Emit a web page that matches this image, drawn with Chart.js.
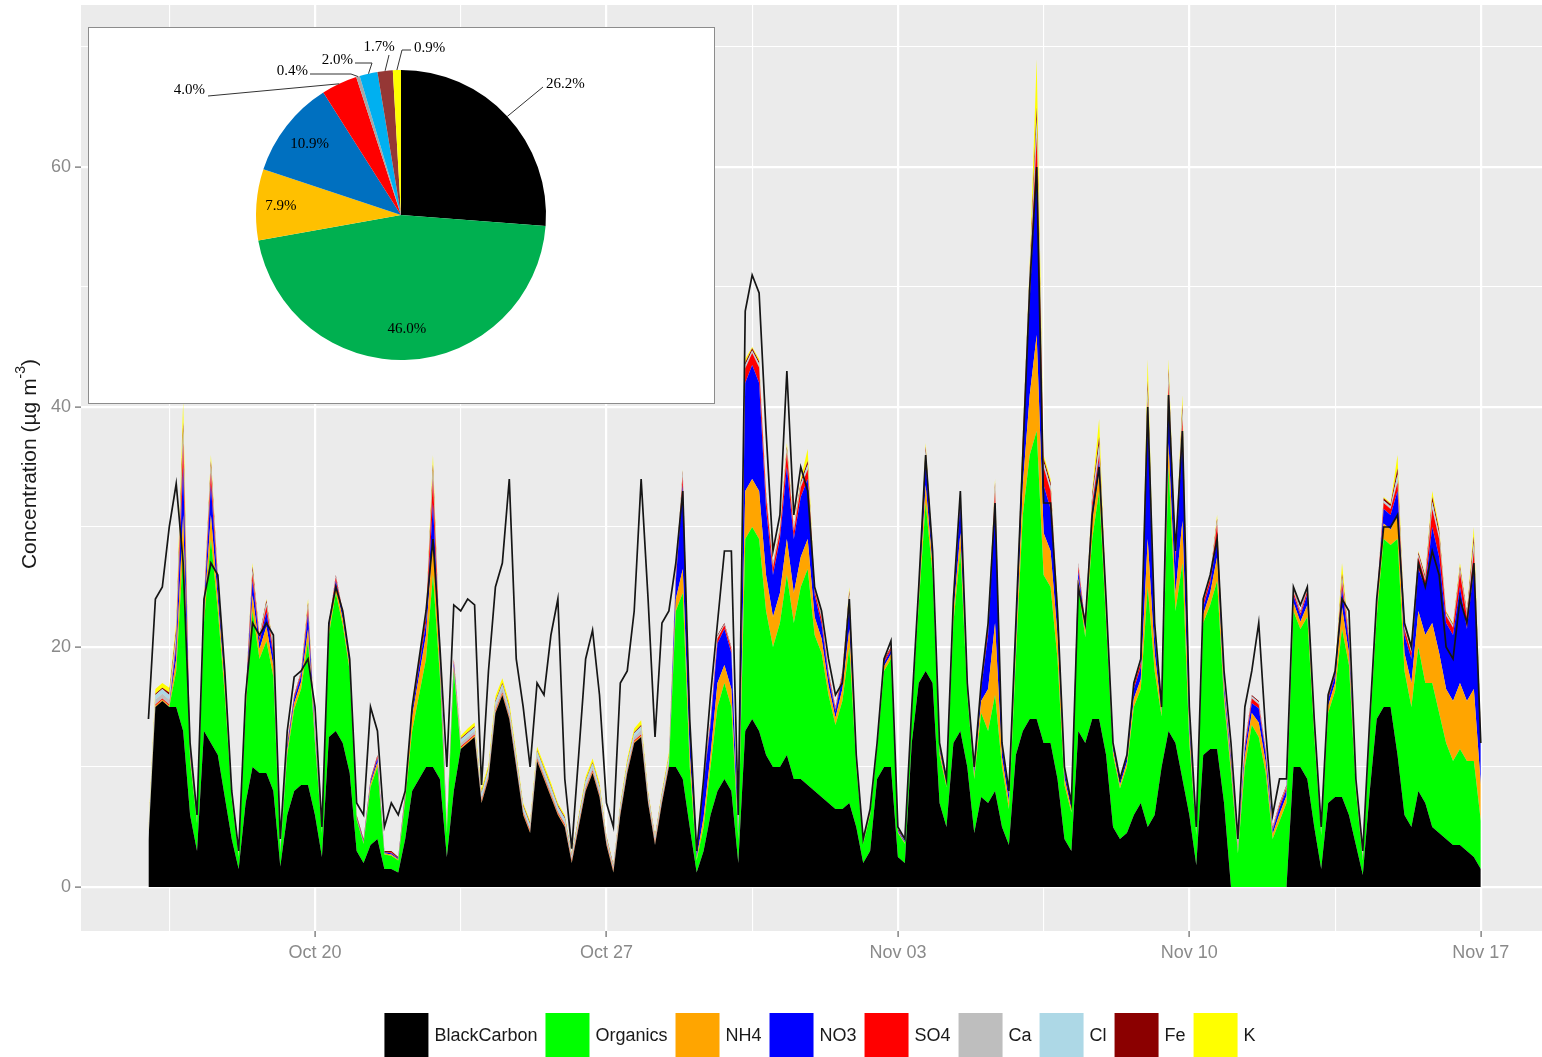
<!DOCTYPE html>
<html>
<head>
<meta charset="utf-8">
<script src="https://cdn.jsdelivr.net/npm/chart.js@4.4.1/dist/chart.umd.min.js"></script>
<style>
html,body{margin:0;padding:0;background:#fff;}
#wrap{position:relative;width:1542px;height:1057px;overflow:hidden;background:#fff;}
#main{position:absolute;left:0;top:0;}
#inset{position:absolute;left:88px;top:27px;width:625px;height:375px;background:#fff;border:1px solid #8c8c8c;}
#pie{position:absolute;left:0;top:0;}
</style>
</head>
<body>
<div id="wrap">
<canvas id="main" width="1542" height="1057"></canvas>
<div id="inset"><canvas id="pie" width="625" height="375"></canvas></div>
</div>
<script>
// ---------------- DATA (4-hourly, starting Oct 16 00:00, ending Nov 17 00:00) ----------------
const startLabel = 'Oct 16';
const stepHours = 4;
const seriesNames = ['BlackCarbon','Organics','NH4','NO3','SO4','Ca','Cl','Fe','K'];

const bc = [
3.9,15,15.5,15,15,13, 6,3,13,12,11,7.5, 4,1.5,7,10,9.5,9.5, 8,1.7,6,8,8.5,8.5,
6,2.5,12.5,13,12,9.5, 3,2,3.5,4,1.5,1.5, 1.2,4,8,9,10,10, 9,2.5,8,11.5,12,12.5,
7,9,14.5,16,14,10, 6,4.5,10.5,9,7.5,6, 5,2,5,8,9.5,7.5, 3.5,1.2,6,9.5,12,12.5,
7,3.5,7,10,10,9, 5,1.2,3,6,8,9, 8,2,13,14,13,11, 10,10,11,9,9,8.5,
8,7.5,7,6.5,6.5,7, 5,2,3,9,10,10, 2.5,2,12,17,18,17, 7,5,12,13,10,4.5,
7.5,7,8,5,3.5,11, 13,14,14,12,12,9, 4,3,13,12,14,14, 11,5,4,4.5,6,7,
5,6,10,13,12,9, 6,1.8,11,11.5,11.5,7, 0,0,0,0,0,0, 0,0,0,10,10,9,
5,1.5,7,7.5,7.5,6, 3.5,1,8,14,15,15, 11,6,5,8,7,5, 4.5,4,3.5,3.5,3,2.5,1.5];

const organics = [
0,0,0,0,3,15, 4.5,2.3,9,17,12,8.5, 3.3,1,7.5,13,9.5,11, 9.5,1.2,5,6.8,8,12,
6,2,8.5,11.5,9.8,8.5, 2.6,1.6,4.8,6,1.2,1.1, 1,3.2,5,7,9,16, 8.5,2,10,0,0,0,
0,0,0,0,0,0, 0,0,0,0,0,0, 0,0,0,0,0,0, 0,0,0,0,0,0,
0,0,0,0,13,15.5, 5,1,2,4,7,8, 7,2,16,16,16,12, 10,12,15,13,16,18,
13,12,9,7,9,13, 5,1.6,3,2.5,8,9, 2,1.6,2.5,6.5,14,9, 4,3.3,10,15,6,4.5,
7,6,8,5,3,8, 18,22,24,14,13,10, 4.5,3.2,12,8.8,15,19, 11,6,4.2,5.5,9,9.5,
20,12,4.2,22,11,18, 6,2.5,11,12,14,8.5, 9.5,2.8,10,13.5,12.5,9.5, 4,5.5,7,13,11.5,13.5,
7.5,2.8,7.5,8.8,14,12.5, 4.5,1.2,5,8.5,14,13.5, 18,12,10,12,10,12, 10,8,7,8,7.5,8,4];

const nh4 = [
0,.1,.1,.1,1,3, .4,.2,.7,2,1,.8, .3,.1,.6,1.3,.8,1.2, .9,.1,.4,.5,.6,1,
.4,.1,.4,.6,.5,.4, .1,.1,.3,.4,.1,.1, .1,.3,1.2,1.6,2,3, 1,.2,.4,.1,.1,.1,
.1,.1,.1,.1,.1,.1, .1,.1,.1,.1,.1,.1, .1,.1,.1,.1,.1,.1, .1,.1,.1,.1,.1,.1,
.1,.1,.1,.1,1,2, 1.2,.2,.8,1,2,1.5, 1.5,.3,4,4,4,3, 2.5,2.5,3,2.5,2.5,2.5,
1.5,1.2,.8,.6,1,1.5, .4,.1,.2,.2,.4,.4, .1,.1,.2,.6,1.5,.8, .3,.3,.8,1.5,.4,.4,
1,3.5,6,.8,.6,1, 2.5,5,8,3.5,3,2, .6,.3,.7,.5,1.5,1.5, .8,.4,.3,.4,.7,.8,
4,1.5,.4,2,1.5,3.5, .8,.2,.7,1,2,.6, .6,.3,.9,1,1.2,.9, .4,.6,.6,.7,.6,1,
.6,.2,.6,.7,1.8,1, .4,.1,.4,.6,1.3,1.3, 2,1.5,2,3,4,5, 5,4.5,5,5.5,5,6,3];

const no3 = [
0,0,0,0,1,4, .3,.2,.5,2.5,1,.6, .2,0,.4,1.2,.6,1.2, .8,.1,.3,.4,.5,1.2,
.3,.1,.3,.4,.4,.3, .1,.1,.2,.3,.1,.1, .1,.2,.4,.7,1,3, .8,.1,.3,0,0,0,
0,0,0,0,0,0, 0,0,0,0,0,0, 0,0,0,0,0,0, 0,0,0,0,0,0,
0,0,0,0,1.5,7, 2.3,.4,2.8,2.5,3.3,3, 3,.5,9,9.5,9,5.5, 3.5,4.5,6,4.5,5,5,
1.8,1.2,.7,.5,1,2, .3,.1,.1,.1,.3,.3, .1,.1,.1,.4,2,.6, .2,.2,.8,2.5,.3,.4,
1,4.5,10,.8,.6,1.4, 3,8,14,4,3.5,2, .5,.3,.6,.4,1,1, .6,.3,.3,.4,.8,1,
10,1.5,.2,4,2.5,7, .8,.1,.6,.8,1.5,.5, .4,.2,.6,.8,1.2,.7, .3,.5,.5,.6,.5,.9,
.5,.1,.5,.6,1.5,.8, .3,.1,.3,.5,1.2,1.2, 2,1.5,2,3.5,4,8, 8,5.5,5.5,8,6,10,3.5];

const so4 = [
0,.1,.1,.1,.5,2, .3,.1,.4,1,.5,.3, .1,0,.3,.6,.3,.5, .4,0,.2,.2,.2,.5,
.2,.1,.2,.3,.2,.2, .1,.1,.1,.2,0,.1, 0,.2,.3,.4,.6,2, .4,.1,.2,.1,.1,.1,
.1,.1,.1,.1,.1,.1, .1,.1,.1,.1,.1,.1, .1,.1,.1,.1,.1,.1, .1,.1,.1,.1,.1,.1,
.1,.1,.1,.1,.4,.7, .3,0,.2,.3,.4,.3, .3,0,1.2,1,1.3,1, .6,.6,1.2,.6,.8,.8,
.4,.4,.3,.2,.3,.5, .2,0,.1,.1,.2,.2, 0,0,.1,.3,.5,.3, .1,0,.2,.5,.2,.1,
.3,.6,1,.2,.2,.3, .8,1.5,2.5,1.5,1.5,.6, .2,.1,.4,.2,.5,.5, .3,.2,.1,.1,.3,.4,
1.5,.5,.1,1,.6,1.5, .2,0,.4,.4,1.2,.2, .2,0,.3,.4,.3,.2, .1,.2,.2,.3,.2,.3,
.2,0,.2,.2,.6,.4, .1,0,.2,.2,.5,.5, .7,.5,.5,1,.5,1.5, 1.5,.6,.6,1.2,1,1.5,.5];

const ca = [
.3,.4,.4,.4,.2,.3, .1,0,.1,.2,.1,.1, 0,0,0,.1,.1,.1, .1,0,0,0,0,.1,
0,0,0,0,0,0, 0,0,0,0,0,0, 0,0,0,.1,.1,.2, .1,0,0,.3,.3,.3,
.3,.3,.4,.4,.4,.3, .2,.2,.3,.3,.3,.2, .2,.2,.2,.3,.3,.3, .2,.2,.2,.3,.3,.4,
.2,.2,.2,.3,.1,.1, 0,0,0,0,.1,0, 0,0,.1,.1,.1,.1, .1,.1,.1,.1,.1,.1,
.1,0,0,0,0,.1, 0,0,0,0,0,0, 0,0,0,0,.1,.1, 0,0,0,.1,0,0,
0,.1,.1,0,0,.1, .1,.2,.5,.1,.1,.1, 0,0,.1,0,.1,.3, .1,0,0,0,0,.1,
.3,.1,0,.2,.1,.2, 0,0,.1,.1,.1,0, .1,0,0,.1,.1,0, 0,0,0,.1,0,.1,
0,0,0,0,.1,.1, 0,0,0,0,.1,.1, .2,.1,.1,.1,.1,.2, .1,.1,.1,.1,.1,.2,.1];

const cl = [
.3,.4,.4,.4,.4,.7, .1,.1,.1,.4,.1,.1, 0,.1,.1,.2,.1,.2, .1,.1,0,0,.1,.2,
0,.1,0,.1,0,0, 0,0,0,0,0,0, 0,0,0,.1,.1,.5, .1,0,0,.3,.3,.3,
.3,.3,.3,.3,.3,.3, .3,.3,.3,.3,.3,.3, .3,.2,.3,.3,.3,.3, .2,.1,.3,.3,.3,.3,
.3,.2,.3,.3,.2,.2, .1,.1,.1,.1,.1,.1, .1,.1,.2,.1,.2,.1, .1,.1,.2,.1,.2,.3,
.1,.1,.1,.1,.1,.3, 0,.1,0,0,0,0, 0,.1,0,.1,.3,.1, 0,0,.1,.1,0,0,
.1,.1,.3,.1,0,.1, .2,.4,1,.3,.3,.1, .1,0,.1,0,.3,.6, .1,0,0,0,.1,.1,
.7,.1,0,.5,.1,.5, .1,.1,.1,.1,.2,.1, .1,.1,.1,.1,.1,.1, .1,.1,.1,.1,.1,.1,
.1,.1,.1,.1,.3,.1, .1,0,0,.1,.1,.1, .5,.1,.1,.1,.1,.4, .3,.1,.1,.2,.1,.5,.1];

const fe = [
.1,.1,.1,.2,.4,.7, .1,.1,.1,.4,.2,.1, .1,.1,.1,.3,.1,.2, .1,.1,.1,.1,.1,.2,
.1,.1,.1,.1,.1,.1, .1,.1,.1,.1,.1,.1, .1,.1,.1,.1,.1,.5, .1,.1,.1,.1,.1,.1,
.1,.1,.1,.1,.1,.1, .1,.1,.1,.1,.1,.1, .1,.1,.1,.1,.1,.1, .1,.1,.1,.1,.1,.1,
.1,.1,.1,.1,.2,.2, .1,.1,.1,.1,.1,.1, .1,.1,.2,.2,.2,.2, .1,.1,.2,.1,.2,.3,
.1,.1,.1,.1,.1,.3, .1,.1,.1,.1,.1,.1, .1,.1,.1,.1,.3,.1, .1,.1,.1,.2,.1,.1,
.1,.1,.3,.1,.1,.1, .2,.4,1,.3,.3,.1, .1,.1,.1,.1,.3,.6, .1,.1,.1,.1,.1,.1,
.7,.2,.1,.5,.1,.5, .1,.1,.1,.1,.2,.1, .1,.1,.1,.1,.1,.1, .1,.1,.1,.1,.1,.1,
.1,.1,.1,.1,.3,.1, .1,.1,.1,.1,.2,.2, .5,.2,.2,.2,.2,.4, .3,.1,.1,.2,.2,.5,.2];

const k = [
.3,.4,.4,.4,.5,1.8, 0,0,.1,.5,.1,0, 0,0,0,.3,0,.1, .1,0,0,0,0,.3,
0,0,0,0,0,0, 0,0,0,0,0,0, 0,0,0,0,.1,.8, 0,0,0,.2,.3,.3,
.3,.3,.4,.4,.4,.3, .2,.2,.3,.3,.3,.2, .2,.1,.2,.3,.3,.3, .1,.1,.2,.3,.3,.4,
.2,.1,.2,.3,.1,.1, 0,0,0,0,0,0, 0,0,.3,.1,.2,.1, .1,.1,.3,.1,.2,1,
0,0,0,0,0,.3, 0,0,0,0,0,0, 0,0,0,0,.3,0, 0,0,0,.1,0,0,
0,.1,.3,0,0,0, .2,.5,4,.3,.3,.1, 0,0,0,0,.3,1.5, 0,0,0,0,0,0,
1.8,.1,0,.8,.1,.8, 0,0,0,0,.3,0, 0,0,0,0,0,0, 0,0,0,.1,0,0,
0,0,0,0,.9,0, 0,0,0,0,.1,.1, 1.1,.1,.1,.1,.1,.5, .3,.1,.1,.3,.1,.8,.1];

// measured total (black line)
const measured = [
14,24,25,30,33.6,27, 12,6,24,27,26,18, 8,3,16,22,21,22, 21,4,13,17.5,18,19,
15,5,22,25,23,19, 7,6,15,13,5,7, 6,8,15,19,23,29, 20,10,23.5,23,24,23.5,
8.5,18,25,27,34,19, 15,10,17,16,21,24, 9,3.2,11,19,21.4,16, 7,5,17,18,23,34,
24,12.5,22,23,27,33, 14,3,9,16,22,28, 28,6,48,51,49.5,38, 28,31,43,31,35,33,
25,23,19,16,17,24, 11,4,6.5,12,19,20.5, 5,4,15,25,36,28, 12,9,24,33,17,10,
17,22,32,12,8,22, 36,50,60,32,32,23, 10,7,25,22,31,35, 24,12,9,11,17,19,
40,22,15,41,28,38, 15,5,24,26,29,18, 12,4,15,18,22,13, 6,9,9,25,23.5,25,
14,5,16,18,24,23, 9,3,14,24,30,30, 31,22,20,27,25,28, 26,20,19,24,22,27,12];

// axis ticks (days since Oct 16 00:00)
const xTickDays = [4, 11, 18, 25, 32];
const xTickLabels = ['Oct 20','Oct 27','Nov 03','Nov 10','Nov 17'];
const yTickValues = [0, 20, 40, 60];

// inset pie
const pieLabels = ['BlackCarbon','Organics','NH4','NO3','SO4','Ca','Cl','Fe','K'];
const pieShares = [26.2, 46.0, 7.9, 10.9, 4.0, 0.4, 2.0, 1.7, 0.9];

// ---------------- STYLES ----------------
const areaColors = ['#000000','#00FF00','#FFA500','#0000FF','#FF0000','#BEBEBE','#ADD8E6','#8B0000','#FFFF00'];
const pieColors = ['#000000','#00B050','#FFC000','#0070C0','#FF0000','#A6A6A6','#00B0F0','#953735','#FFFF00'];
const sansFont = '"Liberation Sans", Arial, sans-serif';
const serifFont = '"Liberation Serif", "Times New Roman", serif';

// ---------------- MAIN CHART ----------------
const seriesValues = [bc, organics, nh4, no3, so4, ca, cl, fe, k];
const dayStep = stepHours / 24;
const toXY = arr => arr.map((v, i) => ({x: i * dayStep, y: v}));

const datasets = seriesValues.map((arr, si) => ({
  label: seriesNames[si],
  data: toXY(arr),
  backgroundColor: areaColors[si],
  borderColor: areaColors[si],
  borderWidth: 0,
  pointRadius: 0,
  fill: si === 0 ? 'origin' : '-1',
  stack: 'components',
  order: 1,
  tension: 0
}));
datasets.push({
  label: 'Measured',
  data: toXY(measured),
  borderColor: '#151515',
  borderWidth: 1.7,
  pointRadius: 0,
  fill: false,
  stack: 'measured',
  order: 0,
  tension: 0
});

const xMajor = xTickDays;
const xMinor = [xTickDays[0] - 3.5].concat(xTickDays.slice(0, -1).map((d, i) => (d + xTickDays[i + 1]) / 2));
const yMajor = yTickValues;
const yMinor = [10, 30, 50, 70];

const panelPlugin = {
  id: 'panelBg',
  beforeDraw(chart) {
    const {ctx, chartArea: a} = chart;
    ctx.save();
    ctx.fillStyle = '#EBEBEB';
    ctx.fillRect(a.left, a.top, a.right - a.left, a.bottom - a.top);
    ctx.restore();
  }
};

const textPlugin = {
  id: 'extraText',
  afterDraw(chart) {
    const ctx = chart.ctx;
    // y-axis title
    ctx.save();
    ctx.translate(30, 464);
    ctx.rotate(-Math.PI / 2);
    ctx.fillStyle = '#1a1a1a';
    ctx.textBaseline = 'middle';
    const f1 = '21px ' + sansFont, f2 = '14px ' + sansFont;
    const p1 = 'Concentration (\u00b5g m', p2 = '-3', p3 = ')';
    ctx.font = f1; const w1 = ctx.measureText(p1).width, w3 = ctx.measureText(p3).width;
    ctx.font = f2; const w2 = ctx.measureText(p2).width;
    let x0 = -(w1 + w2 + w3) / 2;
    ctx.textAlign = 'left';
    ctx.font = f1; ctx.fillText(p1, x0, 0);
    ctx.font = f2; ctx.fillText(p2, x0 + w1, -9);
    ctx.font = f1; ctx.fillText(p3, x0 + w1 + w2, 0);
    ctx.restore();

    // bottom legend
    ctx.save();
    ctx.font = '18px ' + sansFont;
    ctx.textBaseline = 'middle';
    ctx.textAlign = 'left';
    const sw = 44, gapT = 6, gapI = 8;
    const widths = seriesNames.map(n => ctx.measureText(n).width);
    const total = widths.reduce((s, w) => s + sw + gapT + w, 0) + gapI * (seriesNames.length - 1);
    let x = 820 - total / 2;
    seriesNames.forEach((n, i) => {
      ctx.fillStyle = areaColors[i];
      ctx.fillRect(x, 1013, sw, 44);
      ctx.fillStyle = '#1a1a1a';
      ctx.fillText(n, x + sw + gapT, 1036);
      x += sw + gapT + widths[i] + gapI;
    });
    ctx.restore();
  }
};

new Chart(document.getElementById('main'), {
  type: 'line',
  data: {datasets},
  options: {
    responsive: false,
    animation: false,
    devicePixelRatio: 1,
    layout: {padding: {left: 1, right: 0, top: 5, bottom: 0}},
    plugins: {legend: {display: false}, tooltip: {enabled: false}},
    elements: {line: {tension: 0}, point: {radius: 0}},
    scales: {
      x: {
        type: 'linear',
        min: -1.62, max: 33.47,
        afterBuildTicks: s => { s.ticks = xMinor.concat(xMajor).sort((a, b) => a - b).map(v => ({value: v})); },
        afterFit: s => { s.height = 126; s.paddingLeft = 0; s.paddingRight = 0; },
        border: {display: false},
        grid: {
          color: '#FFFFFF',
          lineWidth: c => (c.tick && xMajor.includes(c.tick.value)) ? 2.2 : 1.1,
          tickColor: c => (c.tick && xMajor.includes(c.tick.value)) ? '#666' : 'rgba(0,0,0,0)',
          tickLength: 6,
          tickWidth: 1.2
        },
        ticks: {
          autoSkip: false, maxRotation: 0, padding: 5,
          color: '#8a8a8a',
          font: {family: sansFont, size: 18},
          callback: v => { const i = xMajor.indexOf(v); return i >= 0 ? xTickLabels[i] : ''; }
        }
      },
      y: {
        type: 'linear',
        stacked: true,
        min: -3.67, max: 73.5,
        afterBuildTicks: s => { s.ticks = yMinor.concat(yMajor).sort((a, b) => a - b).map(v => ({value: v})); },
        afterFit: s => { s.width = 80; s.paddingTop = 0; s.paddingBottom = 0; },
        border: {display: false},
        grid: {
          color: '#FFFFFF',
          lineWidth: c => (c.tick && yMajor.includes(c.tick.value)) ? 2.2 : 1.1,
          tickColor: c => (c.tick && yMajor.includes(c.tick.value)) ? '#666' : 'rgba(0,0,0,0)',
          tickLength: 6,
          tickWidth: 1.2
        },
        ticks: {
          padding: 4,
          color: '#8a8a8a',
          font: {family: sansFont, size: 18},
          callback: v => yMajor.includes(v) ? String(v) : ''
        }
      }
    }
  },
  plugins: [panelPlugin, textPlugin]
});

// ---------------- INSET PIE ----------------
// label placement styles (canvas px inside the inset)
const pieLabelStyle = [
  {inside: false, tx: 457, ty: 56, align: 'left', path: [[454, 59]]},
  {inside: true, r: 0.79},
  {inside: true, r: 0.83},
  {inside: true, r: 0.80},
  {inside: false, tx: 116, ty: 62, align: 'right', path: [[119, 68]]},
  {inside: false, tx: 219, ty: 43, align: 'right', path: [[221, 46], [262, 46]]},
  {inside: false, tx: 264, ty: 32, align: 'right', path: [[266, 35], [283, 35]]},
  {inside: false, tx: 290, ty: 19, align: 'center', path: [[300, 27]]},
  {inside: false, tx: 325, ty: 20, align: 'left', path: [[322, 22], [313, 22]]}
];

const pieLabelPlugin = {
  id: 'pieLabels',
  afterDraw(chart) {
    const ctx = chart.ctx;
    const meta = chart.getDatasetMeta(0);
    ctx.save();
    ctx.font = '15px ' + serifFont;
    ctx.fillStyle = '#000';
    ctx.strokeStyle = '#333';
    ctx.lineWidth = 1;
    ctx.textBaseline = 'middle';
    meta.data.forEach((arc, i) => {
      const p = arc.getProps(['x', 'y', 'startAngle', 'endAngle', 'outerRadius'], true);
      const mid = (p.startAngle + p.endAngle) / 2;
      const txt = pieShares[i].toFixed(1) + '%';
      const st = pieLabelStyle[i];
      if (st.inside) {
        ctx.textAlign = 'center';
        ctx.fillText(txt, p.x + Math.cos(mid) * p.outerRadius * st.r, p.y + Math.sin(mid) * p.outerRadius * st.r);
      } else {
        const ax = p.x + Math.cos(mid) * p.outerRadius, ay = p.y + Math.sin(mid) * p.outerRadius;
        ctx.beginPath();
        ctx.moveTo(st.path[0][0], st.path[0][1]);
        for (let j = 1; j < st.path.length; j++) ctx.lineTo(st.path[j][0], st.path[j][1]);
        ctx.lineTo(ax, ay);
        ctx.stroke();
        ctx.textAlign = st.align;
        ctx.fillText(txt, st.tx, st.ty);
      }
    });
    ctx.restore();
  }
};

new Chart(document.getElementById('pie'), {
  type: 'pie',
  data: {labels: pieLabels, datasets: [{data: pieShares, backgroundColor: pieColors, borderWidth: 0}]},
  options: {
    responsive: false,
    animation: false,
    devicePixelRatio: 1,
    layout: {padding: {left: 167, right: 168, top: 42, bottom: 43}},
    plugins: {legend: {display: false}, tooltip: {enabled: false}}
  },
  plugins: [pieLabelPlugin]
});
</script>
</body>
</html>
